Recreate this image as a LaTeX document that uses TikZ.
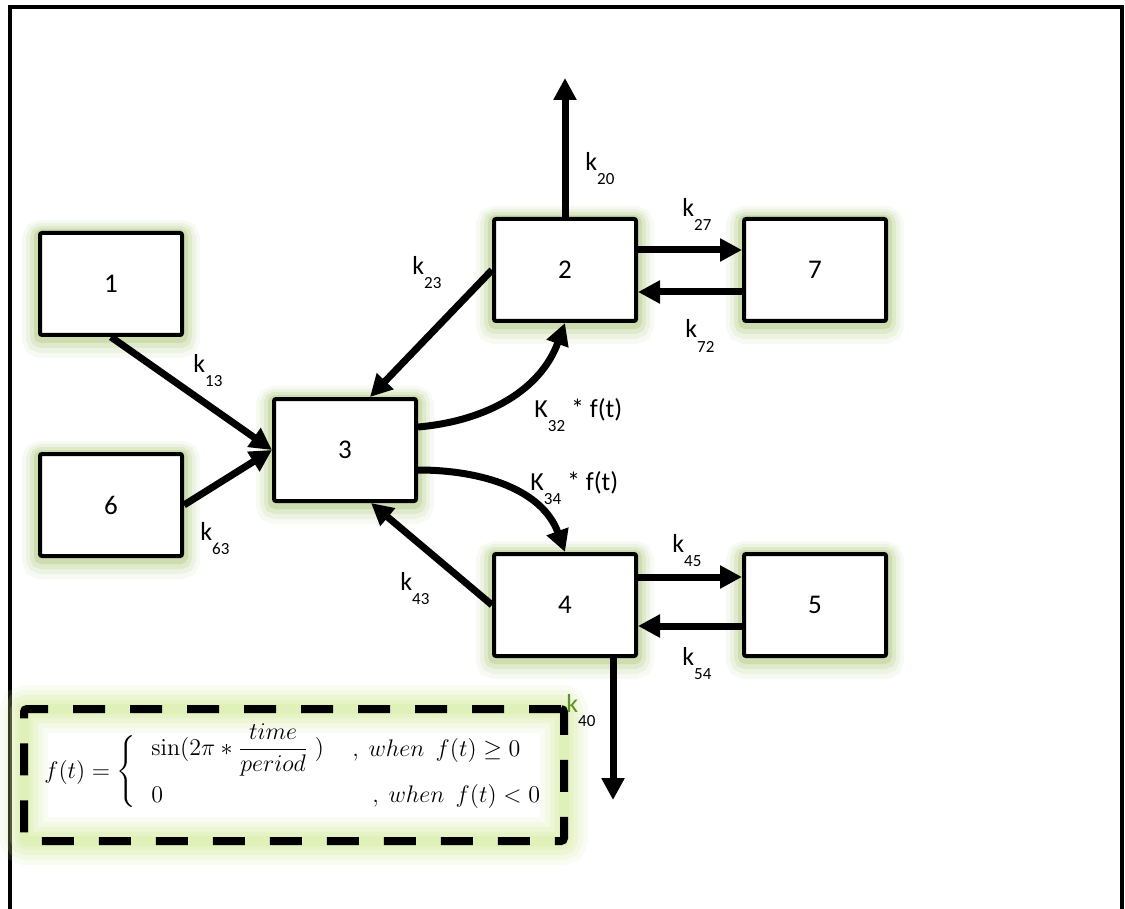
\documentclass[tikz,border=0pt]{standalone}
\usepackage{amsmath}
\usepackage[no-math]{fontspec}
\setmainfont{Carlito}
\usetikzlibrary{arrows.meta}
\definecolor{glowc}{HTML}{9BBB59}
\definecolor{glowl}{HTML}{D2EC9A}
\definecolor{kgreen}{HTML}{5F9328}
\newcommand{\klab}[2]{#1\raisebox{-7pt}{\fontsize{8.5}{10}\selectfont #2}}
\begin{document}
\begin{tikzpicture}[x=0.5pt,y=-0.5pt,
  box/.style={draw=black, line width=2pt, fill=white, rounded corners=1pt,
    minimum width=71pt, minimum height=51pt, inner sep=0pt,
    font=\fontsize{13.5}{16}\selectfont,
    preaction={draw=glowc, draw opacity=0.07, line width=18pt, rounded corners=8pt, transform canvas={yshift=-2.5pt}},
    preaction={draw=glowc, draw opacity=0.10, line width=14pt, rounded corners=6pt, transform canvas={yshift=-2pt}},
    preaction={draw=glowc, draw opacity=0.16, line width=10pt, rounded corners=4pt, transform canvas={yshift=-1.5pt}},
    preaction={draw=glowc, draw opacity=0.25, line width=6pt, rounded corners=2pt, transform canvas={yshift=-1pt}}},
  fbox/.style={draw=black, line width=4pt, dash pattern=on 16pt off 12.5pt, rounded corners=1.5pt,
    minimum width=270pt, minimum height=66pt, inner sep=0pt,
    preaction={draw=glowl, draw opacity=0.12, line width=24pt, rounded corners=12pt, solid},
    preaction={draw=glowl, draw opacity=0.15, line width=19pt, rounded corners=9pt, solid},
    preaction={draw=glowl, draw opacity=0.2, line width=14pt, rounded corners=7pt, solid},
    preaction={draw=glowl, draw opacity=0.25, line width=9pt, rounded corners=4pt, solid},
    preaction={draw=glowl, draw opacity=0.3, line width=5pt, rounded corners=2pt, solid}},
  arr/.style={line width=3.5pt, -{Triangle[length=11pt,width=11pt]}},
  lab/.style={anchor=base west, inner sep=0pt, font=\fontsize{13}{15}\selectfont},
  fml/.style={inner sep=0pt, font=\fontsize{12.5}{15}\selectfont}]
\useasboundingbox (0,0) rectangle (1125,909);
\fill[white] (0,0) rectangle (1125,909);
% outer frame
\draw[line width=2pt] (10,909) -- (10,7.5) -- (1122,7.5) -- (1122,909);

% formula box
\node[fbox] (fb) at (294,775) {};

% boxes
\node[box] (b1) at (111,284) {1};
\node[box] (b6) at (111,505) {6};
\node[box] (b3) at (345,450) {3};
\node[box] (b2) at (565,270) {2};
\node[box] (b7) at (815,270) {7};
\node[box] (b4) at (565,605) {4};
\node[box] (b5) at (815,605) {5};

\coordinate (t20) at (565,78);
\coordinate (t40) at (613,800);

% connectors
\draw[arr] (b2.north) -- (t20);
\draw[arr] ([yshift=10pt]b2.east) -- ([yshift=10pt]b7.west);
\draw[arr] ([yshift=-11pt]b7.west) -- ([yshift=-11pt]b2.east);
\draw[arr] ([yshift=14pt]b4.east) -- ([yshift=14pt]b5.west);
\draw[arr] ([yshift=-10.5pt]b5.west) -- ([yshift=-10.5pt]b4.east);
\draw[arr] ([xshift=24pt]b4.south) -- (t40);
\draw[arr] (b1.south) -- (b3.west);
\draw[arr] (b6.east) -- (b3.west);
\draw[arr] (b2.west) -- ([xshift=12.5pt]b3.north);
\draw[arr] (b4.west) -- ([xshift=13pt]b3.south);
\draw[arr] ([yshift=11.5pt]b3.east) to[out=5,in=-110] (b2.south);
\draw[arr] ([yshift=-10pt]b3.east) to[out=0,in=110] (b4.north);

% labels
\node[lab] (l20) at (585,171) {\klab{k}{20}};
\node[lab] (l27) at (682,217) {\klab{k}{27}};
\node[lab] (l72) at (685,338) {\klab{k}{72}};
\node[lab] (l23) at (412,275) {\klab{k}{23}};
\node[lab] (l13) at (193,372) {\klab{k}{13}};
\node[lab] (l63) at (200,540) {\klab{k}{63}};
\node[lab] (l43) at (400,590) {\klab{k}{43}};
\node[lab] (l45) at (672,552) {\klab{k}{45}};
\node[lab] (l54) at (682,665) {\klab{k}{54}};
\node[lab] (l32) at (534,417) {\klab{K}{32} * f(t)};
\node[lab] (l34) at (530,490) {\klab{K}{34} * f(t)};
\node[lab] (l40) at (566,712) {\klab{\textcolor{kgreen}{k}}{40}};

% formula
\node[fml, anchor=west] (fl) at (44,772) {$f(t) = \left\{\vrule height 17pt depth 15pt width 0pt\right.$};
\node[fml, anchor=west] (s1) at (151,750) {$\sin(2\pi * \dfrac{time}{period}\;)$};
\node[fml, anchor=base west] (w1) at (352,756) {$,\ when\ \ f(t) \geq 0$};
\node[fml, anchor=base west] (z2) at (151,802) {$0$};
\node[fml, anchor=base west] (w2) at (372,802) {$,\ when\ \ f(t) < 0$};
\end{tikzpicture}
\end{document}
